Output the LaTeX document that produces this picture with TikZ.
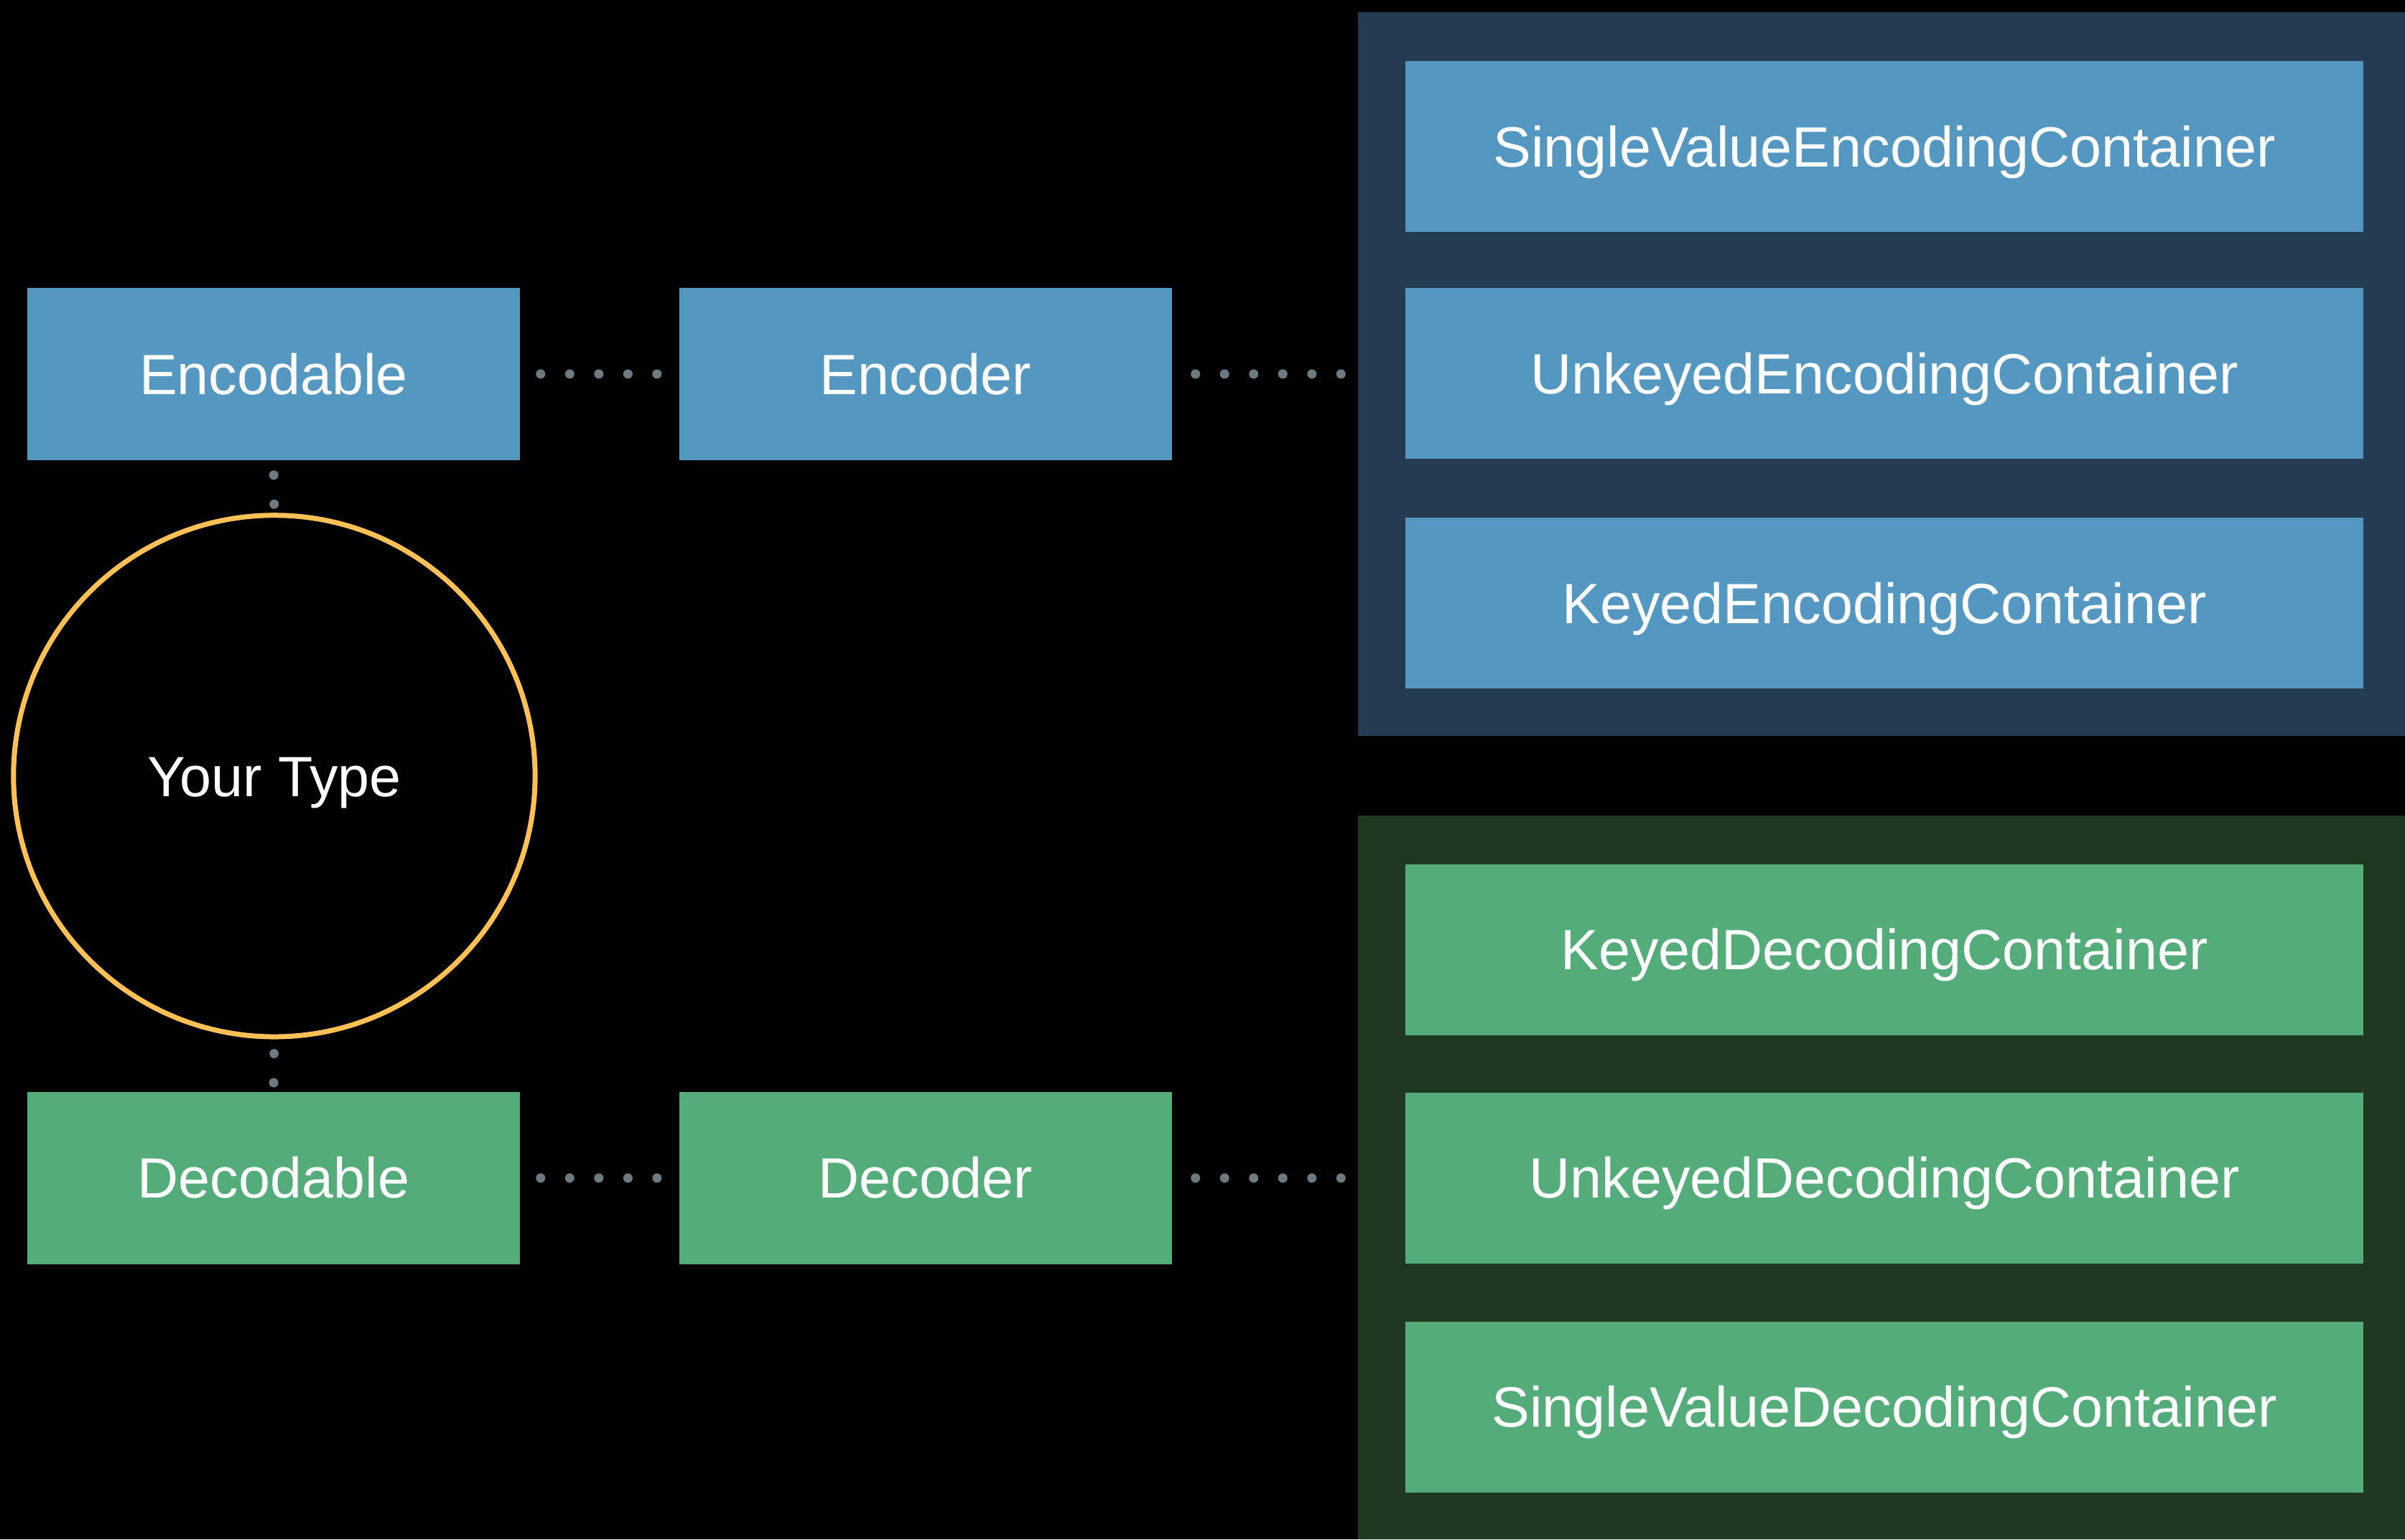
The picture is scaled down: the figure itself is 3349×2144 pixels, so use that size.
\documentclass[tikz,border=0pt]{standalone}
\usepackage{fontspec}
\setmainfont{Liberation Sans}
\usepackage{tikz}

\definecolor{encfill}{HTML}{5497C1}
\definecolor{encback}{HTML}{243B52}
\definecolor{decfill}{HTML}{53AC7A}
\definecolor{decback}{HTML}{1E3920}
\definecolor{ringcol}{HTML}{FFC155}
\definecolor{dotcol}{HTML}{6E7A82}

\begin{document}
\begin{tikzpicture}[x=0.01cm, y=-0.01cm,
  box/.style={rectangle, inner sep=0pt, text=white, text height=16pt, text depth=0pt,
    font=\fontsize{22.5}{26}\selectfont},
  enc node/.style={box, fill=encfill},
  dec node/.style={box, fill=decfill},
  small node/.style={minimum width=6.86cm, minimum height=2.4cm},
  wide node/.style={minimum width=13.33cm, minimum height=2.38cm},
  dotline/.style={dotcol, line width=0.13cm, line cap=round, dash pattern=on 0pt off 0.405cm}]
\fill[black] (0,0) rectangle (3349,2144);

% panels
\node[fill=encback, inner sep=0pt, minimum width=14.57cm, minimum height=10.08cm] (encpanel) at (2620.5,521) {};
\node[fill=decback, inner sep=0pt, minimum width=14.57cm, minimum height=10.08cm] (decpanel) at (2620.5,1640) {};

\node[enc node, small node] (encodable) at (381,521)  {Encodable};
\node[enc node, small node] (encoder)   at (1289,521) {Encoder};
\node[dec node, small node] (decodable) at (381,1641) {Decodable};
\node[dec node, small node] (decoder)   at (1289,1641) {Decoder};

\node[draw=ringcol, line width=0.07cm, circle, inner sep=0pt, minimum size=7.26cm,
  text=white, text height=16pt, text depth=0pt, font=\fontsize{22.5}{26}\selectfont] (yourtype) at (382,1081) {Your Type};

\node[enc node, wide node] (svenc) at (2624.5,204)  {SingleValueEncodingContainer};
\node[enc node, wide node] (ukenc) at (2624.5,520)  {UnkeyedEncodingContainer};
\node[enc node, wide node] (kenc)  at (2624.5,840)  {KeyedEncodingContainer};
\node[dec node, wide node] (kdec)  at (2624.5,1323) {KeyedDecodingContainer};
\node[dec node, wide node] (ukdec) at (2624.5,1641) {UnkeyedDecodingContainer};
\node[dec node, wide node] (svdec) at (2624.5,1960) {SingleValueDecodingContainer};

% dotted links
\draw[dotline, shorten <=0.28cm, shorten >=0.30cm] (encodable.east) -- (encoder.west);
\draw[dotline, shorten <=0.32cm, shorten >=0.23cm] (encoder.east) -- (encoder.east -| encpanel.west);
\draw[dotline, shorten <=0.28cm, shorten >=0.30cm] (decodable.east) -- (decoder.west);
\draw[dotline, shorten <=0.32cm, shorten >=0.23cm] (decoder.east) -- (decoder.east -| decpanel.west);
\draw[dotline, shorten <=0.20cm, shorten >=0.10cm] (encodable.south) -- (yourtype.north);
\draw[dotline, shorten <=0.20cm, shorten >=0.10cm] (yourtype.south) -- (decodable.north);
\end{tikzpicture}
\end{document}
